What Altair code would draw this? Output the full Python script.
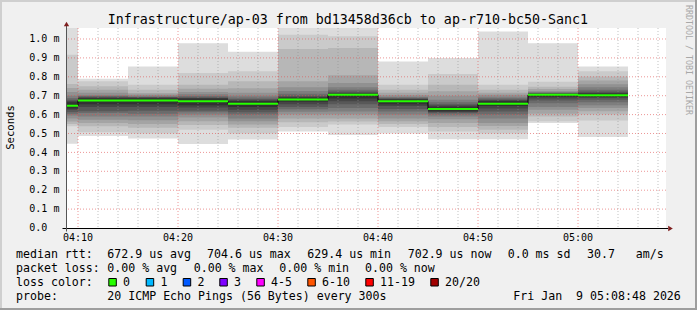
import altair as alt
import pandas as pd

# ---------------- data ----------------
TITLE = "Infrastructure/ap-03 from bd13458d36cb to ap-r710-bc50-Sanc1"
view_start = "04:08:48"
view_end = "05:08:48"

bin_starts = ["04:05", "04:10", "04:15", "04:20", "04:25", "04:30",
              "04:35", "04:40", "04:45", "04:50", "04:55", "05:00"]
bin_ends = ["04:10", "04:15", "04:20", "04:25", "04:30", "04:35",
            "04:40", "04:45", "04:50", "04:55", "05:00", "05:05"]

# median rtt per 5-minute step (ms)
median_ms = [0.647, 0.675, 0.675, 0.670, 0.658, 0.680,
             0.705, 0.670, 0.629, 0.658, 0.7046, 0.703]

# sorted pings per step: highest 10 (ping20 .. ping11), ms
ping_high_ms = [
    [1.07, 0.917, 0.762, 0.741, 0.720, 0.700, 0.688, 0.679, 0.672, 0.665],
    [0.790, 0.776, 0.750, 0.732, 0.715, 0.703, 0.698, 0.694, 0.690, 0.687],
    [0.855, 0.758, 0.732, 0.714, 0.706, 0.700, 0.695, 0.692, 0.690, 0.687],
    [0.977, 0.820, 0.758, 0.737, 0.720, 0.708, 0.698, 0.692, 0.688, 0.685],
    [0.933, 0.829, 0.776, 0.740, 0.715, 0.700, 0.690, 0.682, 0.676, 0.672],
    [1.07, 1.023, 0.947, 0.776, 0.745, 0.725, 0.710, 0.700, 0.694, 0.690],
    [1.07, 1.015, 0.952, 0.808, 0.767, 0.745, 0.732, 0.722, 0.716, 0.712],
    [0.881, 0.758, 0.732, 0.715, 0.703, 0.695, 0.690, 0.686, 0.683, 0.680],
    [0.899, 0.815, 0.758, 0.723, 0.700, 0.679, 0.665, 0.655, 0.648, 0.642],
    [1.040, 0.758, 0.732, 0.715, 0.705, 0.695, 0.686, 0.680, 0.676, 0.672],
    [0.977, 0.774, 0.748, 0.735, 0.725, 0.720, 0.716, 0.713, 0.711, 0.709],
    [0.855, 0.829, 0.802, 0.780, 0.760, 0.745, 0.732, 0.722, 0.716, 0.712],
]
# lowest 10 (ping1 .. ping10), ms
ping_low_ms = [
    [0.446, 0.538, 0.550, 0.564, 0.580, 0.595, 0.605, 0.614, 0.625, 0.632],
    [0.487, 0.506, 0.538, 0.556, 0.573, 0.590, 0.608, 0.618, 0.640, 0.655],
    [0.474, 0.500, 0.530, 0.550, 0.570, 0.590, 0.605, 0.620, 0.640, 0.655],
    [0.445, 0.520, 0.545, 0.565, 0.585, 0.600, 0.612, 0.620, 0.637, 0.650],
    [0.468, 0.500, 0.530, 0.547, 0.565, 0.580, 0.600, 0.612, 0.625, 0.640],
    [0.510, 0.535, 0.560, 0.580, 0.600, 0.615, 0.628, 0.640, 0.655, 0.668],
    [0.492, 0.547, 0.564, 0.580, 0.600, 0.617, 0.635, 0.655, 0.670, 0.685],
    [0.500, 0.535, 0.550, 0.565, 0.580, 0.600, 0.617, 0.630, 0.645, 0.655],
    [0.470, 0.510, 0.535, 0.556, 0.575, 0.590, 0.600, 0.608, 0.614, 0.618],
    [0.470, 0.500, 0.520, 0.540, 0.556, 0.580, 0.600, 0.617, 0.632, 0.645],
    [0.555, 0.565, 0.590, 0.605, 0.625, 0.640, 0.660, 0.675, 0.685, 0.695],
    [0.481, 0.569, 0.600, 0.618, 0.635, 0.650, 0.665, 0.678, 0.688, 0.695],
]

y_ticks_ms = [0.0, 0.1, 0.2, 0.3, 0.4, 0.5, 0.6, 0.7, 0.8, 0.9, 1.0]
y_tick_labels = ["0.0", "0.1 m", "0.2 m", "0.3 m", "0.4 m", "0.5 m",
                 "0.6 m", "0.7 m", "0.8 m", "0.9 m", "1.0 m"]
x_major = ["04:10", "04:20", "04:30", "04:40", "04:50", "05:00"]
x_minor = ["04:12", "04:14", "04:16", "04:18", "04:22", "04:24", "04:26", "04:28",
           "04:32", "04:34", "04:36", "04:38", "04:42", "04:44", "04:46", "04:48",
           "04:52", "04:54", "04:56", "04:58", "05:02", "05:04", "05:06", "05:08"]

legend_row1 = ["median rtt:", "672.9 us avg", "704.6 us max", "629.4 us min",
               "702.9 us now", "0.0 ms sd", "30.7", "am/s"]
legend_row2 = ["packet loss:", "0.00 % avg", "0.00 % max", "0.00 % min", "0.00 % now"]
legend_row3_label = "loss color:"
loss_labels = ["0", "1", "2", "3", "4-5", "6-10", "11-19", "20/20"]
loss_colors = ["#26ff00", "#00b8ff", "#0059ff", "#7e00ff", "#ff00ff",
               "#ff5500", "#ff0000", "#a10000"]
legend_row4 = ["probe:", "20 ICMP Echo Pings (56 Bytes) every 300s",
               "Fri Jan \u00a09 05:08:48 2026"]
credit = "RRDTOOL / TOBI OETIKER"
y_title = "Seconds"

# ---------------- layout (page pixels) ----------------
MONO = "DejaVu Sans Mono"
PAD_L, PAD_T, PLOT_W, PLOT_H = 66, 28, 600, 200
W, H = 697, 310
Y_TOP = 1.0582
row1_x = [16, 107.3, 207, 307.3, 407.7, 507.7, 587, 635.7]
row2_x = [16, 107.3, 193.7, 279.3, 365]
row3_box_x = [108.3, 145.7, 182.7, 219.3, 256.3, 307.3, 365.3, 430.3]
row4_x = [16, 107.3, 513.3]
row_base_y = [258.3, 272.3, 286.0, 300.0]
smoke_grays = ["#dddddd", "#cacaca", "#b7b7b7", "#a4a4a4", "#919191",
               "#7e7e7e", "#6b6b6b", "#585858", "#454545", "#323232"]


def tmin(s):
    p = [int(v) for v in s.split(":")]
    return (p[0] - 4) * 60 + p[1] + (p[2] / 60.0 if len(p) > 2 else 0.0)


def px(X):
    return X - PAD_L


def py(Y):
    return Y - PAD_T


xs = alt.Scale(domain=[tmin(view_start), tmin(view_end)], nice=False, zero=False)
ys = alt.Scale(domain=[0, Y_TOP], nice=False, zero=False)

# smoke table
rows = []
for b in range(len(bin_starts)):
    for k in range(10):
        rows.append({"t": tmin(bin_starts[b]), "t2": tmin(bin_ends[b]),
                     "v": ping_high_ms[b][k], "v2": ping_low_ms[b][k], "band": k})
smoke_df = pd.DataFrame(rows)

med_df = pd.DataFrame({"t": [tmin(s) for s in bin_starts],
                       "t2": [tmin(s) for s in bin_ends],
                       "v": median_ms})
step_df = pd.DataFrame({"t": [tmin(s) for s in bin_starts] + [tmin(bin_ends[-1])],
                        "v": median_ms + [median_ms[-1]]})

layers = []

smoke = alt.Chart(smoke_df).mark_rect(clip=True).encode(
    x=alt.X("t:Q", scale=xs, axis=None),
    x2="t2:Q",
    y=alt.Y("v:Q", scale=ys, axis=None),
    y2="v2:Q",
    color=alt.Color("band:O", scale=alt.Scale(domain=list(range(10)), range=smoke_grays), legend=None),
)
layers.append(smoke)

minor_v = alt.Chart(pd.DataFrame({"t": [tmin(s) for s in x_minor]})).mark_rule(
    color="#8f8f8f", opacity=0.55, strokeDash=[1, 2], strokeWidth=1).encode(
    x=alt.X("t:Q", scale=xs, axis=None))
major_v = alt.Chart(pd.DataFrame({"t": [tmin(s) for s in x_major]})).mark_rule(
    color="#e05050", opacity=0.6, strokeDash=[1, 2], strokeWidth=1).encode(
    x=alt.X("t:Q", scale=xs, axis=None))
major_h = alt.Chart(pd.DataFrame({"v": y_ticks_ms[1:]})).mark_rule(
    color="#e05050", opacity=0.6, strokeDash=[1, 2], strokeWidth=1).encode(
    y=alt.Y("v:Q", scale=ys, axis=None))
layers += [minor_v, major_v, major_h]

step_line = alt.Chart(step_df).mark_line(interpolate="step-after", color="#000000",
                                         strokeWidth=1, clip=True).encode(
    x=alt.X("t:Q", scale=xs, axis=None), y=alt.Y("v:Q", scale=ys, axis=None))
green = alt.Chart(med_df).mark_rule(color="#26ff00", strokeWidth=2, clip=True).encode(
    x=alt.X("t:Q", scale=xs, axis=None), x2="t2:Q", y=alt.Y("v:Q", scale=ys, axis=None))
layers += [step_line, green]

# tick labels placed through the scales
xlab = alt.Chart(pd.DataFrame({"t": [tmin(s) for s in x_major], "lab": x_major})).mark_text(
    font=MONO, fontSize=10, align="center", baseline="alphabetic", color="#000000").encode(
    x=alt.X("t:Q", scale=xs, axis=None), y=alt.value(py(240.7)), text="lab:N")
ylab = alt.Chart(pd.DataFrame({"v": y_ticks_ms, "lab": y_tick_labels})).mark_text(
    font=MONO, fontSize=10, align="left", baseline="alphabetic", dy=3.2, color="#000000").encode(
    y=alt.Y("v:Q", scale=ys, axis=None), x=alt.value(px(29.3)), text="lab:N")
layers += [xlab, ylab]

dummy = pd.DataFrame({"d": [0]})


def rect(X1, Y1, X2, Y2, fill, stroke=None):
    kw = dict(color=fill)
    if stroke:
        kw.update(stroke=stroke, strokeWidth=1)
    return alt.Chart(dummy).mark_rect(**kw).encode(
        x=alt.value(px(X1)), x2=alt.value(px(X2)), y=alt.value(py(Y1)), y2=alt.value(py(Y2)))


def rule(X1, Y1, X2, Y2, color, width=1):
    return alt.Chart(dummy).mark_rule(color=color, strokeWidth=width).encode(
        x=alt.value(px(X1)), x2=alt.value(px(X2)), y=alt.value(py(Y1)), y2=alt.value(py(Y2)))


def text(txt, X, Y, size, align="left", baseline="alphabetic", angle=None, color="#000000"):
    kw = dict(font=MONO, fontSize=size, align=align, baseline=baseline, color=color)
    if angle is not None:
        kw["angle"] = angle
    return alt.Chart(dummy).mark_text(**kw).encode(
        x=alt.value(px(X)), y=alt.value(py(Y)), text=alt.value(txt))


def arrow(X, Y, shape):
    return alt.Chart(dummy).mark_point(shape=shape, filled=True, size=28, color="#7f1f1f",
                                       opacity=1).encode(x=alt.value(px(X)), y=alt.value(py(Y)))


# axes lines + arrows
layers.append(rule(62.5, 228.5, 668, 228.5, "#000000"))
layers.append(rule(66.5, 231.5, 66.5, 25, "#555555"))
layers.append(arrow(670.5, 228.5, "triangle-right"))
layers.append(arrow(66.5, 24, "triangle-up"))

# frame shading
layers.append(rect(0, 0, W, 2, "#cfcfcf"))
layers.append(rect(0, 0, 2, H, "#cfcfcf"))
layers.append(rect(0, H - 2, W, H, "#9e9e9e"))
layers.append(rect(W - 2, 0, W, H, "#9e9e9e"))

# title and axis title
layers.append(text(TITLE, 347.8, 24.3, 13.3, align="center"))
layers.append(text(y_title, 10.5, 127.5, 10.6, align="center", baseline="middle", angle=270))
layers.append(text(credit, 687.5, 60, 8.3, align="center", baseline="middle", angle=90, color="#a8a8a8"))

# legend
for s, X in zip(legend_row1, row1_x):
    layers.append(text(s, X, row_base_y[0], 11.6))
for s, X in zip(legend_row2, row2_x):
    layers.append(text(s, X, row_base_y[1], 11.6))
layers.append(text(legend_row3_label, 16, row_base_y[2], 11.6))
for lab, col, bx in zip(loss_labels, loss_colors, row3_box_x):
    layers.append(rect(bx + 0.5, 278.5, bx + 8, 286, col, stroke="#000000"))
    layers.append(text(lab, bx + 14.7, row_base_y[2], 11.6))
for s, X in zip(legend_row4, row4_x):
    layers.append(text(s, X, row_base_y[3], 11.6))

chart = alt.layer(*layers).properties(
    width=PLOT_W, height=PLOT_H,
    padding={"left": PAD_L, "top": PAD_T, "right": W - PAD_L - PLOT_W, "bottom": H - PAD_T - PLOT_H},
    autosize=alt.AutoSizeParams(type="none"),
    background="#f0f0f0",
).configure_view(stroke=None, fill="#ffffff")

chart.save("out.html", embed_options={"renderer": "svg", "actions": False})
